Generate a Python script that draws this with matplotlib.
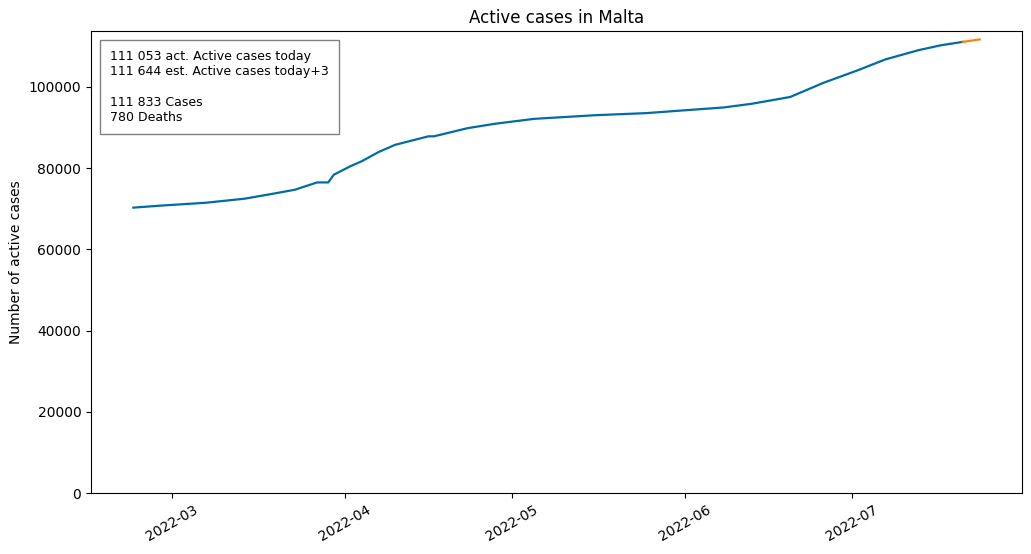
import matplotlib
matplotlib.use("Agg")
import matplotlib.pyplot as plt
import matplotlib.dates as mdates
import pandas as pd

act_dates = ["2022-02-22", "2022-02-27", "2022-03-07", "2022-03-14", "2022-03-19",
             "2022-03-23", "2022-03-27", "2022-03-29", "2022-03-30", "2022-04-02",
             "2022-04-04", "2022-04-07", "2022-04-10", "2022-04-16", "2022-04-17",
             "2022-04-20", "2022-04-23", "2022-04-28", "2022-05-05", "2022-05-16",
             "2022-05-25", "2022-06-03", "2022-06-08", "2022-06-13", "2022-06-18",
             "2022-06-20", "2022-06-26", "2022-07-02", "2022-07-07", "2022-07-13",
             "2022-07-17", "2022-07-21"]
act_values = [70250, 70750, 71450, 72450, 73650,
              74650, 76450, 76450, 78350, 80450,
              81650, 83900, 85700, 87800, 87800,
              88800, 89800, 90900, 92100, 93000,
              93500, 94400, 94900, 95800, 97000,
              97500, 101000, 104000, 106700, 109000,
              110200, 111053]

# Estimated continuation (today -> today+3)
est_dates = ["2022-07-21", "2022-07-22", "2022-07-23", "2022-07-24"]
est_values = [111053, 111250, 111450, 111644]

info_lines = ["111 053 act. Active cases today",
              "111 644 est. Active cases today+3",
              "",
              "111 833 Cases",
              "780 Deaths"]

blue = "#006BA4"
orange = "#FF800E"

fig = plt.figure(figsize=(10.31, 5.54), dpi=100)
ax = fig.add_axes([0.0883, 0.110, 0.9030, 0.834])

ax.plot(pd.to_datetime(act_dates), act_values, color=blue, lw=1.6)
ax.plot(pd.to_datetime(est_dates), est_values, color=orange, lw=1.6)

ax.set_ylim(bottom=0)
ax.set_title("Active cases in Malta", fontsize=12)
ax.set_ylabel("Number of active cases")
ax.xaxis.set_major_locator(mdates.MonthLocator())
ax.xaxis.set_major_formatter(mdates.DateFormatter("%Y-%m"))
for lbl in ax.get_xticklabels():
    lbl.set_rotation(30)
    lbl.set_ha("center")

ax.text(0.0204, 0.959, "\n".join(info_lines), transform=ax.transAxes,
        fontsize=9, va="top", ha="left", linespacing=1.22,
        bbox=dict(boxstyle="square,pad=0.8", facecolor="white", edgecolor="gray"))

fig.savefig("out.png", dpi=100)
